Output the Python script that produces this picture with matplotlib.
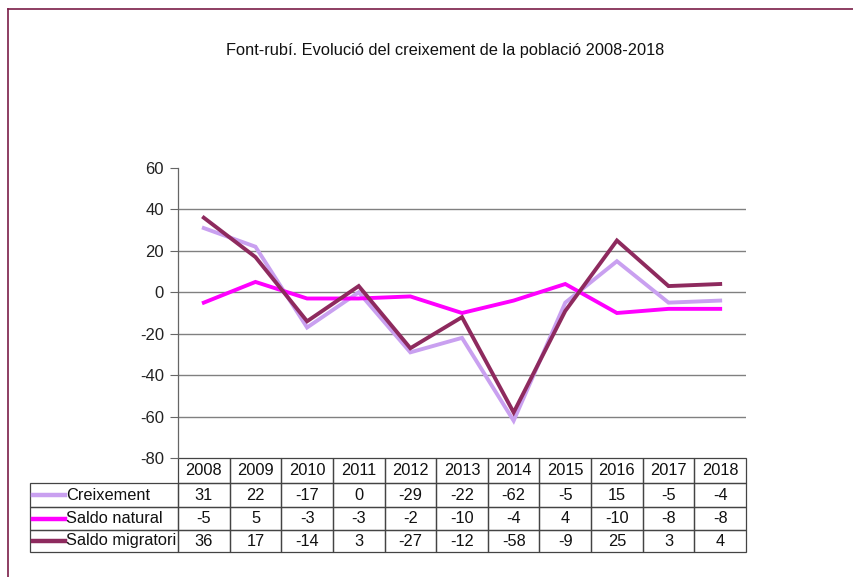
import matplotlib
matplotlib.use("Agg")
import matplotlib.pyplot as plt
from matplotlib.transforms import blended_transform_factory
from matplotlib.patches import Rectangle
from matplotlib.lines import Line2D

plt.rcParams['font.family'] = ['Liberation Sans', 'DejaVu Sans']

years = ["2008", "2009", "2010", "2011", "2012", "2013", "2014", "2015", "2016", "2017", "2018"]
series_names = ["Creixement", "Saldo natural", "Saldo migratori"]
creixement = [31, 22, -17, 0, -29, -22, -62, -5, 15, -5, -4]
saldo_natural = [-5, 5, -3, -3, -2, -10, -4, 4, -10, -8, -8]
saldo_migratori = [36, 17, -14, 3, -27, -12, -58, -9, 25, 3, 4]
colors = ["#c9a0f0", "#ff00ff", "#8e2a5e"]
yticks = [-80, -60, -40, -20, 0, 20, 40, 60]
title = "Font-rubí. Evolució del creixement de la població 2008-2018"

series = [creixement, saldo_natural, saldo_migratori]

fig = plt.figure(figsize=(8.54, 5.77), dpi=100)
fig.patch.set_facecolor("white")

# figure frame (top and left)
fig.add_artist(Line2D([8/854, 1.0], [1 - 9/577, 1 - 9/577], transform=fig.transFigure,
                      color="#7a1e48", lw=1.2))
fig.add_artist(Line2D([8/854, 8/854], [0, 1 - 9/577], transform=fig.transFigure,
                      color="#7a1e48", lw=1.2))

ax = fig.add_axes([178/854, 1 - 458/577, 568/854, 290/577])
x = list(range(len(years)))
for s, c in zip(series, colors):
    ax.plot(x, s, color=c, lw=2.8, solid_joinstyle="miter", zorder=3)

ax.set_xlim(-0.5, len(years) - 0.5)
ax.set_ylim(-80, 60)
ax.set_yticks(yticks)
ax.set_yticklabels([str(v) for v in yticks], fontsize=12, color="#222222")
ax.tick_params(axis="y", length=6, width=0.8, color="#666666", pad=4)
ax.set_xticks([])
for sp in ["top", "right", "bottom"]:
    ax.spines[sp].set_visible(False)
ax.spines["left"].set_color("#666666")
ax.spines["left"].set_linewidth(0.9)
for v in yticks[1:-1]:
    ax.axhline(v, color="#808080", lw=1.0, zorder=1)

fig.text(445/854, 1 - 50/577, title, ha="center", va="center", fontsize=11.8, color="#111111")

# data table
tr = blended_transform_factory(ax.transData, ax.transAxes)
row_edges = [0.0, -25/290, -49/290, -72/290, -94/290]
label_left = -0.5 - 148/51.6
edge_col = "#444444"

for i, yr in enumerate(years):
    x0 = i - 0.5
    for r in range(4):
        y_top, y_bot = row_edges[r], row_edges[r + 1]
        ax.add_patch(Rectangle((x0, y_bot), 1, y_top - y_bot, transform=tr, fill=False,
                               ec=edge_col, lw=0.9, clip_on=False))
        txt = yr if r == 0 else str(series[r - 1][i])
        ax.text(i, (y_top + y_bot) / 2, txt, transform=tr, ha="center", va="center",
                fontsize=11.8, color="#111111", clip_on=False)

for r, (name, c) in enumerate(zip(series_names, colors), start=1):
    y_top, y_bot = row_edges[r], row_edges[r + 1]
    ax.add_patch(Rectangle((label_left, y_bot), -0.5 - label_left, y_top - y_bot, transform=tr,
                           fill=False, ec=edge_col, lw=0.9, clip_on=False))
    ym = (y_top + y_bot) / 2
    ax.add_line(Line2D([label_left + 3/51.6, label_left + 35/51.6], [ym, ym], transform=tr,
                       color=c, lw=3.2, clip_on=False))
    ax.text(label_left + 36/51.6, ym, name, transform=tr, ha="left", va="center",
            fontsize=11.8, color="#111111", clip_on=False)

fig.savefig("out.png", dpi=100)
